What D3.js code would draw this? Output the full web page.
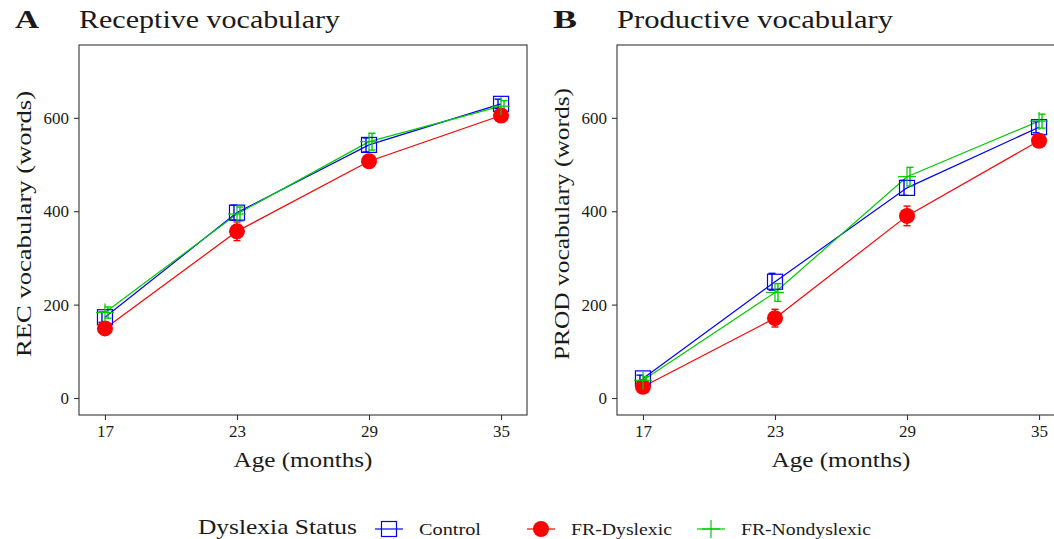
<!DOCTYPE html>
<html><head><meta charset="utf-8">
<script src="https://cdn.jsdelivr.net/npm/d3@7"></script>
<style>body{margin:0;background:#fff}svg{display:block}text{font-family:"Liberation Serif","DejaVu Serif",serif;fill:#1a1a1a}</style>
</head><body><svg id="c" width="1054" height="539"></svg>
<script>
const ages = [17, 23, 29, 35];
const groups = ["Control", "FR-Dyslexic", "FR-Nondyslexic"];
const colors = ["#0000FF", "#FF0000", "#00CC00"];
const yTicks = [0, 200, 400, 600];
// Receptive vocabulary means and SE
const recControl = [173, 397, 542, 630];
const recDyslexic = [149, 357, 507, 605];
const recNondys = [183, 394, 549, 625];
const recControlSE = [11, 16, 15, 10];
const recDyslexicSE = [9, 20, 12, 9];
const recNondysSE = [12, 15, 18, 12];
// Productive vocabulary means and SE
const prodControl = [42, 249, 450, 580];
const prodDyslexic = [24, 171, 390, 551];
const prodNondys = [38, 226, 474, 593];
const prodControlSE = [7, 18, 16, 12];
const prodDyslexicSE = [5, 19, 21, 14];
const prodNondysSE = [8, 19, 20, 15];

const panels = [
  {letter:"A", title:"Receptive vocabulary", titleW:261, ylab:"REC vocabulary (words)", ylabW:266, left:79, right:527,
   vals:[recControl, recDyslexic, recNondys], se:[recControlSE, recDyslexicSE, recNondysSE]},
  {letter:"B", title:"Productive vocabulary", titleW:276, ylab:"PROD vocabulary (words)", ylabW:272, left:617, right:1065,
   vals:[prodControl, prodDyslexic, prodNondys], se:[prodControlSE, prodDyslexicSE, prodNondysSE]}
];
const svg = d3.select("#c");
const pTop = 45, pBottom = 415;
const dodge = [-3, 0, 3];

function fit(t, w) { return t.attr("textLength", w).attr("lengthAdjust", "spacingAndGlyphs"); }

function drawMarker(g, gi, x, y) {
  const c = colors[gi];
  if (gi === 0) {
    g.append("rect").attr("x", x-7.5).attr("y", y-7.5).attr("width", 15).attr("height", 15)
      .attr("fill", "none").attr("stroke", c).attr("stroke-width", 1.2);
  } else if (gi === 1) {
    g.append("circle").attr("cx", x).attr("cy", y).attr("r", 8).attr("fill", c);
  } else {
    g.append("line").attr("x1", x-9).attr("x2", x+9).attr("y1", y).attr("y2", y).attr("stroke", c).attr("stroke-width", 1.2);
    g.append("line").attr("x1", x).attr("x2", x).attr("y1", y-9).attr("y2", y+9).attr("stroke", c).attr("stroke-width", 1.2);
  }
}

panels.forEach(p => {
  const x = d3.scaleLinear().domain([15.82, 36.18]).range([p.left, p.right]);
  const y = d3.scaleLinear().domain([-36.4, 756]).range([pBottom, pTop]);
  const g = svg.append("g");
  g.append("rect").attr("x", p.left).attr("y", pTop).attr("width", p.right-p.left).attr("height", pBottom-pTop)
    .attr("fill", "none").attr("stroke", "#333").attr("stroke-width", 1.1);
  const ax = g.append("g").attr("transform", `translate(0,${pBottom})`)
    .call(d3.axisBottom(x).tickValues(ages).tickSize(5).tickPadding(5).tickFormat(d3.format("d")));
  const ay = g.append("g").attr("transform", `translate(${p.left},0)`)
    .call(d3.axisLeft(y).tickValues(yTicks).tickSize(5).tickPadding(5).tickFormat(d3.format("d")));
  [ax, ay].forEach(a => {
    a.select(".domain").remove();
    a.selectAll("line").attr("stroke", "#333").attr("stroke-width", 1.1);
    a.selectAll("text").attr("font-size", 17).style("font-family", '"Liberation Serif","DejaVu Serif",serif').attr("fill", "#1a1a1a");
  });
  fit(g.append("text").attr("x", p.left - 64).attr("y", 28).attr("font-size", 25).attr("font-weight", "bold").text(p.letter), 24);
  fit(g.append("text").attr("x", p.left).attr("y", 28).attr("font-size", 25).text(p.title), p.titleW);
  const xMid = (x(17) + x(35)) / 2;
  fit(g.append("text").attr("x", xMid).attr("y", 467)
    .attr("text-anchor", "middle").attr("font-size", 21).text("Age (months)"), 139);
  fit(g.append("text").attr("transform", `translate(${p.left - 48},${(pTop+pBottom)/2 - 6}) rotate(-90)`)
    .attr("text-anchor", "middle").attr("font-size", 21).text(p.ylab), p.ylabW);
  const clip = "clip" + p.letter;
  svg.append("clipPath").attr("id", clip).append("rect").attr("x", p.left).attr("y", pTop).attr("width", p.right-p.left).attr("height", pBottom-pTop);
  const pg = g.append("g").attr("clip-path", `url(#${clip})`);
  const line = d3.line().x((d,i) => x(ages[i])).y(d => y(d));
  p.vals.forEach((vals, gi) => {
    pg.append("path").attr("d", line(vals)).attr("fill", "none").attr("stroke", colors[gi]).attr("stroke-width", 1.2);
  });
  p.vals.forEach((vals, gi) => {
    vals.forEach((v, i) => {
      const cx = x(ages[i]) + dodge[gi];
      const s = p.se[gi][i];
      const eg = pg.append("g").attr("stroke", colors[gi]).attr("stroke-width", 1.4);
      eg.append("line").attr("x1", cx).attr("x2", cx).attr("y1", y(v - s)).attr("y2", y(v + s));
      eg.append("line").attr("x1", cx-3.5).attr("x2", cx+3.5).attr("y1", y(v - s)).attr("y2", y(v - s));
      eg.append("line").attr("x1", cx-3.5).attr("x2", cx+3.5).attr("y1", y(v + s)).attr("y2", y(v + s));
    });
  });
  p.vals.forEach((vals, gi) => {
    vals.forEach((v, i) => drawMarker(pg, gi, x(ages[i]), y(v)));
  });
});

const lg = svg.append("g");
fit(lg.append("text").attr("x", 198).attr("y", 534).attr("font-size", 21).text("Dyslexia Status"), 159);
const keyX = [389, 541, 711];
const labX = [419, 571, 741];
const labW = [62, 101, 130];
groups.forEach((name, gi) => {
  lg.append("line").attr("x1", keyX[gi]-14).attr("x2", keyX[gi]+14).attr("y1", 529).attr("y2", 529)
    .attr("stroke", colors[gi]).attr("stroke-width", 1.2);
  drawMarker(lg, gi, keyX[gi], 529);
  fit(lg.append("text").attr("x", labX[gi]).attr("y", 535).attr("font-size", 16).text(name), labW[gi]);
});
</script></body></html>
